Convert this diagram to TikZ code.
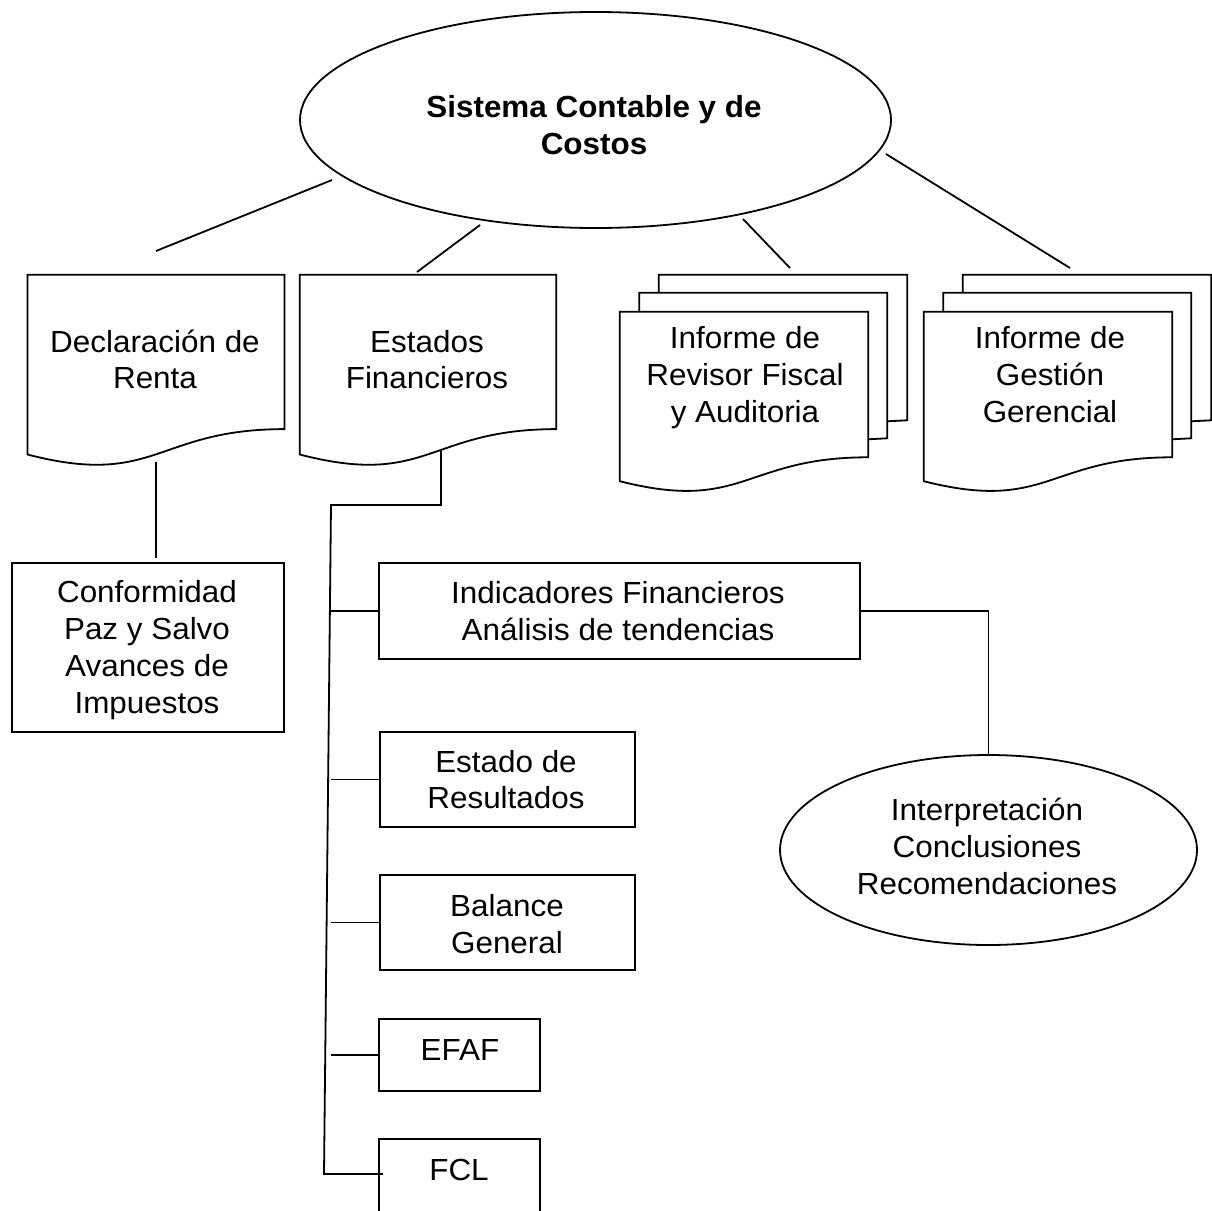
\documentclass[tikz,border=0pt]{standalone}
\usepackage{fontspec}
\setmainfont{Liberation Sans}[FakeStretch=1.03]
\usetikzlibrary{shapes.geometric,calc}

\tikzset{
  wire/.style={draw=black, line width=1.8pt, line join=miter},
  boxframe/.style={wire, rectangle, inner sep=0pt},
  ovalframe/.style={wire, ellipse, inner sep=0pt},
  docholder/.style={rectangle, inner sep=0pt},
  % multi-line labels are placed by the baseline of their last line
  txt/.style={anchor=base, align=center, inner sep=0pt,
    font={\fontsize{30.5pt}{36.7pt}\selectfont}},
}

% outline of a flowchart "document" page around an invisible holder node
\newcommand\docoutline[1]{%
  \draw[wire] (#1.north west) -- (#1.north east)
    -- ($(#1.north east)!0.802!(#1.south east)$) coordinate (#1-br)
    .. controls ($(#1.north)!0.802!(#1.south)$) and ($(#1.north)!1.1075!(#1.south)$)
    .. ($(#1.north west)!0.934!(#1.south west)$) -- cycle;}

% the two pages peeking out behind a front document page
\newcommand\backpages[1]{%
  \draw[wire] ([shift={(19.5pt,0pt)}]#1.north west) -- ([shift={(19.5pt,19pt)}]#1.north west)
    -- ([shift={(19pt,19pt)}]#1.north east) -- ([shift={(19pt,19pt)}]#1-br)
    -- ([yshift=18pt]#1-br);
  \draw[wire] ([shift={(39pt,19pt)}]#1.north west) -- ([shift={(39pt,37pt)}]#1.north west)
    -- ([shift={(39pt,37pt)}]#1.north east) -- ([shift={(39pt,37pt)}]#1-br)
    -- ([shift={(19pt,36pt)}]#1-br);}

\begin{document}
\begin{tikzpicture}[x=1pt, y=-1pt]
  \fill[white] (0,0) rectangle (1212,1210);
  \useasboundingbox (0,0) rectangle (1212,1210);

  % top ellipse
  \node[ovalframe, minimum width=591pt, minimum height=216pt] (sys) at (595.5,120) {};
  \node[txt, font={\fontsize{30.5pt}{37pt}\selectfont\bfseries}] (systxt) at (594,154)
    {Sistema Contable y de\\Costos};

  % single document pages
  \node[docholder, minimum width=256.5pt, minimum height=192pt] (renta) at (156,371) {};
  \docoutline{renta}
  \node[txt, font={\fontsize{30.5pt}{35.5pt}\selectfont}] (rentatxt) at (155,388) {Declaración de\\Renta};

  \node[docholder, minimum width=256pt, minimum height=192pt] (estados) at (428,371) {};
  \docoutline{estados}
  \node[txt, font={\fontsize{30.5pt}{35.5pt}\selectfont}] (estadostxt) at (427,388) {Estados\\Financieros};

  % stacked documents
  \node[docholder, minimum width=248pt, minimum height=181pt] (rev) at (744,402.5) {};
  \docoutline{rev}
  \backpages{rev}
  \node[txt, font={\fontsize{30.5pt}{37pt}\selectfont}] (revtxt) at (745,422) {Informe de\\Revisor Fiscal\\y Auditoria};

  \node[docholder, minimum width=248pt, minimum height=181pt] (ges) at (1048,402.5) {};
  \docoutline{ges}
  \backpages{ges}
  \node[txt, font={\fontsize{30.5pt}{37pt}\selectfont}] (gestxt) at (1050,422) {Informe de\\Gestión\\Gerencial};

  % loose connectors under the top ellipse
  \coordinate (s1a) at (332,180);  \coordinate (s1b) at (156,251);
  \coordinate (s2a) at (480,225);  \coordinate (s2b) at (417,272);
  \coordinate (s3a) at (743,219);  \coordinate (s3b) at (790,268);
  \coordinate (s4a) at (886,154);  \coordinate (s4b) at (1070,268);
  \draw[wire] (s1a) -- (s1b);
  \draw[wire] (s2a) -- (s2b);
  \draw[wire] (s3a) -- (s3b);
  \draw[wire] (s4a) -- (s4b);

  % boxes
  \node[boxframe, minimum width=272pt, minimum height=169pt] (conf) at (148,647.5) {};
  \node[txt] (conftxt) at (147,713) {Conformidad\\Paz y Salvo\\Avances de\\Impuestos};

  \node[boxframe, minimum width=481pt, minimum height=96pt] (ind) at (619.5,611) {};
  \node[txt] (indtxt) at (618,640) {Indicadores Financieros\\Análisis de tendencias};

  \node[boxframe, minimum width=255pt, minimum height=95pt] (res) at (507.5,779.5) {};
  \node[txt, font={\fontsize{30.5pt}{35.5pt}\selectfont}] (restxt) at (506,808) {Estado de\\Resultados};

  \node[boxframe, minimum width=255pt, minimum height=95pt] (bal) at (507.5,922.5) {};
  \node[txt] (baltxt) at (507,953) {Balance\\General};

  \node[boxframe, minimum width=161pt, minimum height=72pt] (efaf) at (459.5,1055) {};
  \node[txt] (efaftxt) at (460,1060) {EFAF};

  \node[boxframe, minimum width=161pt, minimum height=111pt] (fcl) at (459.5,1194.5) {};
  \node[txt] (fcltxt) at (459,1180) {FCL};

  \node[ovalframe, minimum width=417pt, minimum height=190pt] (interp) at (988.5,850) {};
  \node[txt] (interptxt) at (987,894) {Interpretación\\Conclusiones\\Recomendaciones};

  % Declaración de Renta -> Conformidad
  \coordinate (confjoin) at (renta.south |- conf.north);
  \draw[wire] ([yshift=5pt]renta.south) -- ([yshift=4pt]confjoin);

  % Estados Financieros -> bus feeding the statements
  \coordinate (eftap) at (441,451);
  \coordinate (bustop) at (331,505);
  \coordinate (busbot) at (324,1174);
  \coordinate (fcltap) at (383,1174);
  \coordinate (busx) at (331,0);
  \draw[wire] (eftap) |- (bustop) -- (busbot) -- (fcltap);
  \draw[wire] (busx |- ind.west) -- (ind.west);
  \draw[wire] (busx |- res.west) -- (res.west);
  \draw[wire] (busx |- bal.west) -- (bal.west);
  \draw[wire] (busx |- efaf.west) -- (efaf.west);

  % Indicadores -> Interpretación
  \draw[wire] (ind.east) -| (interp.north);
\end{tikzpicture}
\end{document}
